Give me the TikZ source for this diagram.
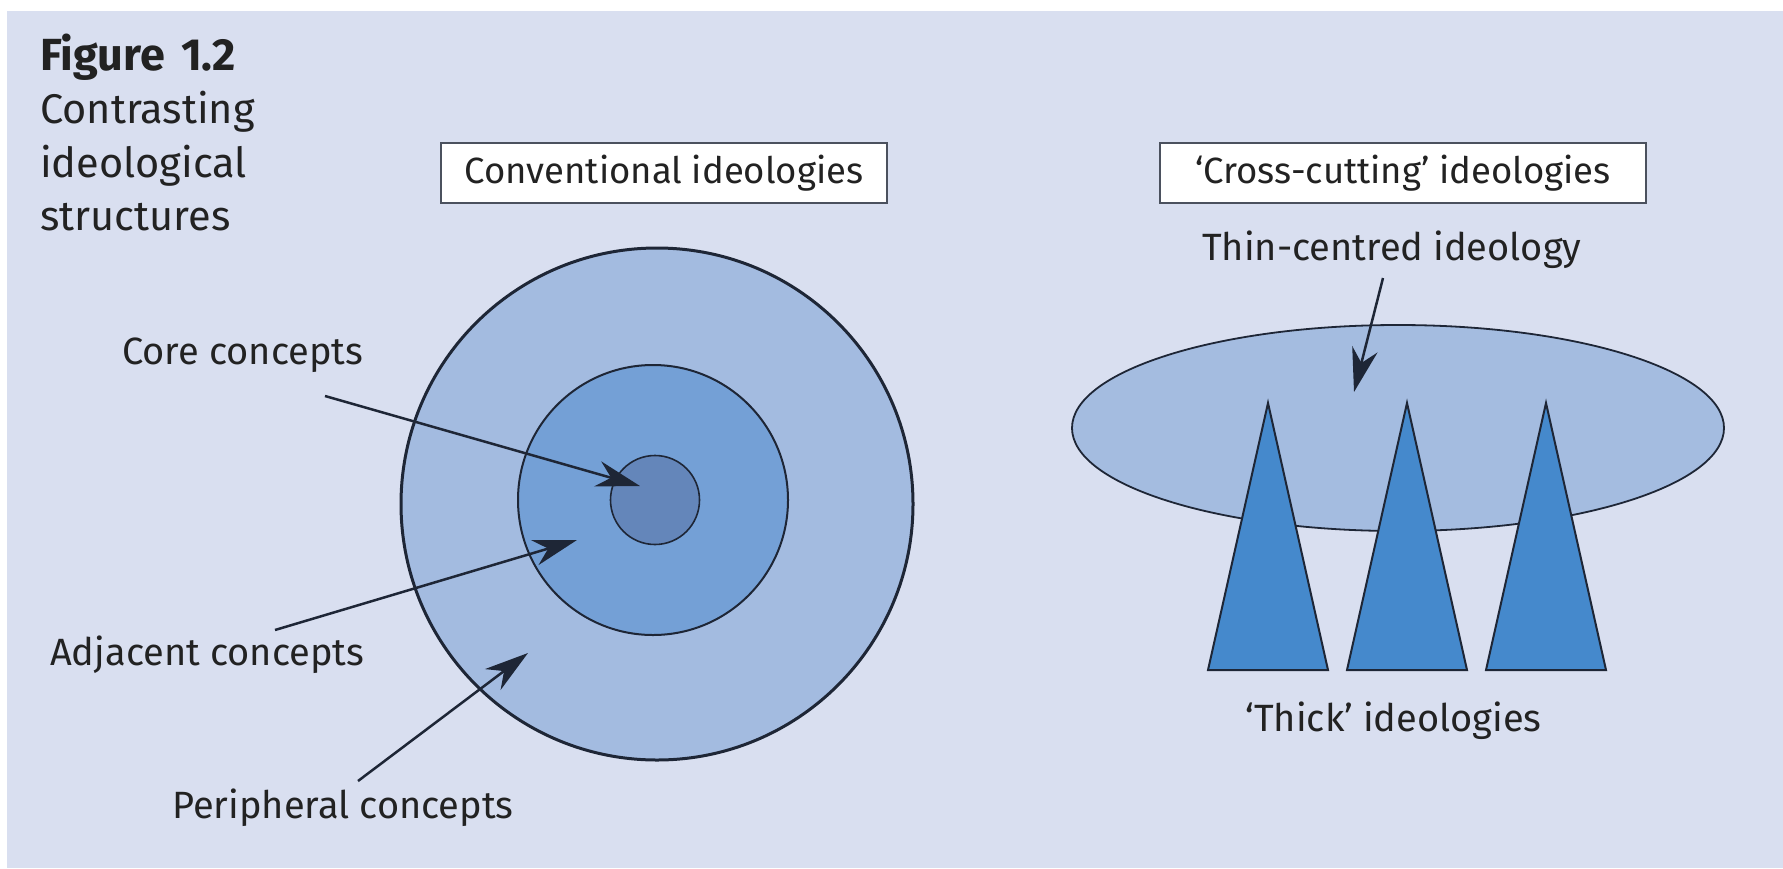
\documentclass[tikz,border=0pt]{standalone}
\usepackage{fontspec}
\setmainfont{Fira Sans}
\usetikzlibrary{arrows.meta,shapes.geometric}
\definecolor{panel}{HTML}{D9DFF0}
\definecolor{outerc}{HTML}{A3BBE0}
\definecolor{midc}{HTML}{74A0D6}
\definecolor{innerc}{HTML}{6486BA}
\definecolor{ellc}{HTML}{A4BCE0}
\definecolor{tric}{HTML}{4589CC}
\definecolor{ink}{HTML}{1E2636}
\definecolor{txt}{HTML}{222222}
\tikzset{
  lbl/.style={inner sep=0pt, anchor=base west, text=txt, font=\fontsize{38}{44}\selectfont},
  capt/.style={lbl, font=\fontsize{41.5}{44}\selectfont},
  boxst/.style={draw=ink!80, line width=2pt, fill=white, inner sep=0pt, text=txt, font=\fontsize{36.5}{44}\selectfont},
  ring/.style={circle, draw=ink, inner sep=0pt},
  arr/.style={draw=ink, line width=2.5pt, -{Stealth[length=44pt,width=26pt,inset=14pt]}},
  tri/.style={draw=ink, line width=2pt, fill=tric, line join=miter}
}
\begin{document}
\begin{tikzpicture}[x=1pt,y=-1pt]
\useasboundingbox (0,0) rectangle (1783,868);
\fill[white] (0,0) rectangle (1783,868);
\fill[panel] (7,11) rectangle (1783,868);

% caption
\node[capt, font=\fontsize{45}{44}\selectfont\bfseries] (cap1) at (40,70) {Figure\hspace{16pt}1.2};
\node[capt] (cap2) at (40,123) {Contrasting};
\node[capt] (cap3) at (40,177) {ideological};
\node[capt] (cap4) at (40,230) {structures};

% boxes
\node[boxst, minimum width=446pt, minimum height=60pt] (conv) at (664,173) {Conventional ideologies};
\node[boxst, minimum width=486pt, minimum height=60pt] (cross) at (1403,173) {‘Cross-cutting’ ideologies};

% concentric circles
\node[ring, line width=3pt, fill=outerc, minimum size=512pt] (outer) at (657,504) {};
\node[ring, line width=2pt, fill=midc, minimum size=270pt] (middle) at (653,500) {};
\node[ring, line width=1.6pt, fill=innerc, minimum size=89pt] (inner) at (655,500) {};

% labels left
\node[lbl] (core) at (122,364) {Core concepts};
\node[lbl] (adj) at (50,665) {Adjacent concepts};
\node[lbl] (peri) at (172,818) {Peripheral concepts};

\coordinate (coreS) at (325,396);
\coordinate (coreT) at (640,486);
\coordinate (adjS) at (275,630);
\coordinate (adjT) at (577,540);
\coordinate (periS) at (358,781);
\coordinate (periT) at (528,653);
\draw[arr] (coreS) -- (coreT);
\draw[arr] (adjS) -- (adjT);
\draw[arr] (periS) -- (periT);

% right: ellipse and triangles
\node[ellipse, draw=ink, line width=1.8pt, fill=ellc, minimum width=652pt, minimum height=206pt, inner sep=0pt] (thin) at (1398,428) {};
\draw[tri] (1208,670) -- (1268,403) -- (1328,670) -- cycle;
\draw[tri] (1347,670) -- (1407,403) -- (1467,670) -- cycle;
\draw[tri] (1486,670) -- (1546,403) -- (1606,670) -- cycle;

\node[lbl] (thinlbl) at (1202,260) {Thin-centred ideology};
\node[lbl] (thick) at (1245,731) {‘Thick’ ideologies};
\coordinate (thinS) at (1383,278);
\coordinate (thinT) at (1354,392);
\draw[arr] (thinS) -- (thinT);
\end{tikzpicture}
\end{document}
